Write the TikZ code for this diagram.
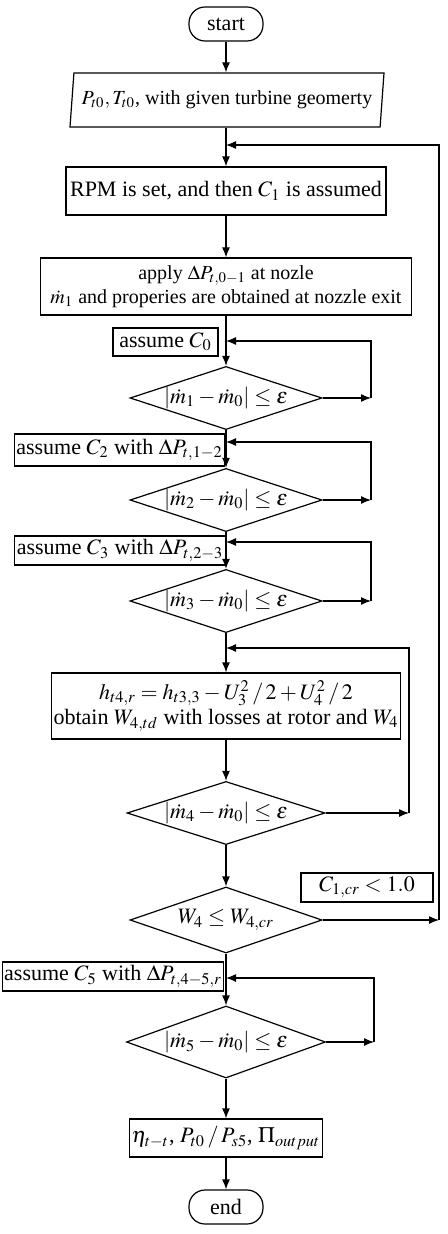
\documentclass[tikz,border=0pt]{standalone}
\usepackage{mathptmx}
\usepackage[no-math]{fontspec}
\setmainfont{Liberation Serif}
\usetikzlibrary{shapes}
\usetikzlibrary{arrows,arrows.meta}

\begin{document}
\begin{tikzpicture}[x=0.5pt,y=-0.5pt]
	\tikzstyle{every node}=[font=\fontsize{11}{12.5}\selectfont, line width=0.6pt]
	\tikzstyle{term}=[draw, rectangle, rounded corners=8pt, minimum width=37pt, minimum height=17pt]
	\tikzstyle{io}=[draw, trapezium, trapezium left angle=80, trapezium right angle=100, trapezium stretches body=true, minimum width=157pt, minimum height=27pt, inner sep=1pt]
	\tikzstyle{proc}=[draw, rectangle, inner sep=1pt]
	\tikzstyle{decision}=[draw, diamond, aspect=3, inner sep=0pt, minimum width=96pt, minimum height=30pt]
	\tikzstyle{line}=[draw, line width=0.6pt, -{Latex[length=5pt,width=4pt]}]
	\useasboundingbox (0,0) rectangle (448,1234);

	\node[term] (start) at (226,24) {start};
	\node[io, font=\fontsize{10}{12}\selectfont] (input) at (227,100) {$P_{t0},T_{t0}$, with given turbine geomerty};
	\node[proc, minimum width=160pt, minimum height=24pt] (rpm) at (226,191) {RPM is set, and then $C_1$ is assumed};
	\node[proc, minimum width=185.5pt, minimum height=28.5pt, align=center, font=\fontsize{10}{12}\selectfont] (apply) at (226,286.5) {apply $\Delta P_{t,0-1}$ at nozle\\ $\dot m_1$ and properies are obtained at nozzle exit};
	\node[proc, minimum width=52.5pt, minimum height=14pt] (asmzero) at (165.5,342) {assume $C_0$};
	\node[decision] (dec1) at (226,398) {$\left|\dot m_1-\dot m_0\right|\le\varepsilon$};
	\node[proc, minimum width=96.5pt, minimum height=16pt] (asmtwo) at (119.5,450) {assume $C_2$ with $\Delta P_{t,1-2}$};
	\node[decision] (dec2) at (226,500) {$\left|\dot m_2-\dot m_0\right|\le\varepsilon$};
	\node[proc, minimum width=97pt, minimum height=14.5pt] (asmthree) at (120,550.5) {assume $C_3$ with $\Delta P_{t,2-3}$};
	\node[decision] (dec3) at (226,601) {$\left|\dot m_3-\dot m_0\right|\le\varepsilon$};
	\node[proc, minimum width=169pt, minimum height=33pt, align=center] (rotor) at (226,706) {$h_{t4,r}=h_{t3,3}-U_3^2\,/\,2+U_4^2\,/\,2$\\ obtain $W_{4,td}$ with losses at rotor and $W_4$};
	\node[decision, minimum width=99pt, minimum height=31pt] (dec4) at (226,813) {$\left|\dot m_4-\dot m_0\right|\le\varepsilon$};
	\node[proc, minimum width=66pt, minimum height=14.5pt] (crit) at (367,887.5) {$C_{1,cr}<1.0$};
	\node[decision, minimum height=33pt] (dec5) at (226,920) {$W_4\le W_{4,cr}$};
	\node[proc, minimum width=100pt, minimum height=14.5pt] (asmfive) at (113,976.5) {assume $C_5$ with $\Delta P_{t,4-5,r}$};
	\node[decision, minimum width=99.5pt, minimum height=36pt] (dec6) at (226,1042) {$\left|\dot m_5-\dot m_0\right|\le\varepsilon$};
	\node[proc, minimum width=86pt, minimum height=19pt] (output) at (226,1138) {$\eta_{t-t}$, $P_{t0}\,/\,P_{s5}$, $\Pi_{output}$};
	\node[term] (stop) at (226,1207) {end};

	\coordinate (j0) at (226,145);
	\coordinate (k0) at (439,920);
	\coordinate (j1) at (226,341);
	\coordinate (k1) at (371,398);
	\coordinate (j2) at (226,442);
	\coordinate (k2) at (371,500);
	\coordinate (j3) at (226,542);
	\coordinate (k3) at (371,601);
	\coordinate (j4) at (226,648);
	\coordinate (k4) at (409,813);
	\coordinate (j6) at (226,978);
	\coordinate (k6) at (374,1042);

	\path[line] (start) -- (start |- input.north);
	\path[line] (start |- input.south) -- (rpm);
	\path[line] (rpm) -- (apply);
	\path[line] (apply) -- (dec1);
	\path[line] (dec1) -- (dec2);
	\path[line] (dec2) -- (dec3);
	\path[line] (dec3) -- (rotor);
	\path[line] (rotor) -- (dec4);
	\path[line] (dec4) -- (dec5);
	\path[line] (dec5) -- (dec6);
	\path[line] (dec6) -- (output);
	\path[line] (output) -- (stop);

	\path[line] (dec1) -- (k1);
	\path[line] (k1) |- (j1);
	\path[line] (dec2) -- (k2);
	\path[line] (k2) |- (j2);
	\path[line] (dec3) -- (k3);
	\path[line] (k3) |- (j3);
	\path[line] (dec4) -- (k4);
	\path[line] (k4) |- (j4);
	\path[line] (dec5) -- (k0);
	\path[line] (k0) |- (j0);
	\path[line] (dec6) -- (k6);
	\path[line] (k6) |- (j6);
\end{tikzpicture}
\end{document}
